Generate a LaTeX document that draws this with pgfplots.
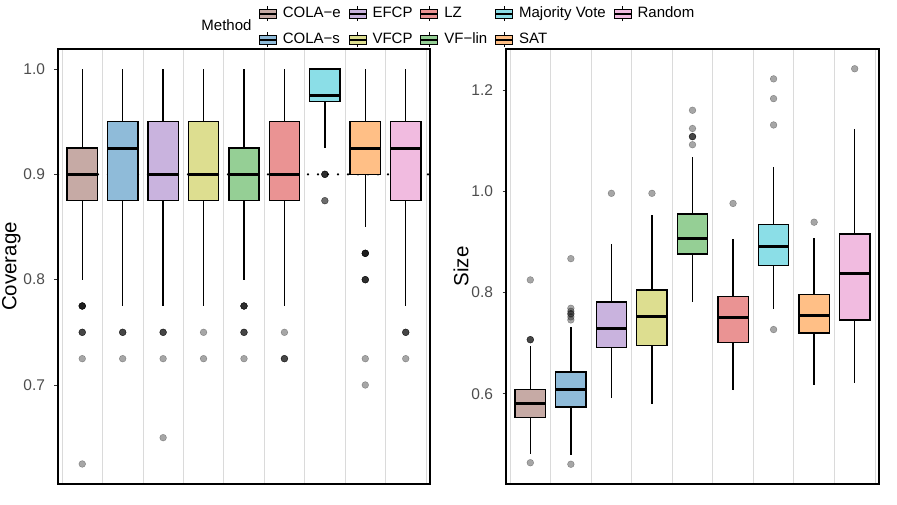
\documentclass[border=0pt]{standalone}
\usepackage{fontspec}
\setmainfont{Liberation Sans}
\usepackage{pgfplots}
\pgfplotsset{compat=1.18}
\usepgfplotslibrary{statistics}

\definecolor{cbrown}{HTML}{C6AAA5}
\definecolor{cblue}{HTML}{8FBBD9}
\definecolor{cpurple}{HTML}{C9B3DE}
\definecolor{colive}{HTML}{DDDE90}
\definecolor{cgreen}{HTML}{95CF95}
\definecolor{cred}{HTML}{EA9393}
\definecolor{ccyan}{HTML}{8BDEE7}
\definecolor{corange}{HTML}{FFBF86}
\definecolor{cpink}{HTML}{F1BBE0}
\definecolor{ticktext}{HTML}{4D4D4D}
\definecolor{gridc}{HTML}{DADADA}

\pgfplotsset{
  panel/.style={
    scale only axis,
    width=372bp, height=435bp,
    xmin=0.4, xmax=9.6,
    xtick={0.5,1.5,...,9.5}, xticklabels={},
    xmajorgrids, major grid style={gridc, line width=0.8bp},
    x tick style={draw=none},
    axis line style={black, line width=1.3bp},
    ytick pos=left, tick align=outside,
    major tick length=3.5bp,
    y tick style={color=black!80, line width=0.9bp},
    yticklabel style={xshift=-6bp, /pgf/number format/.cd, fixed, fixed zerofill, precision=1, assume math mode=true},
    ticklabel style={font=\fontsize{15.5bp}{18bp}\selectfont, color=ticktext},
    label style={font=\fontsize{20.5bp}{24bp}\selectfont},
    ylabel shift=-4bp,
    boxplot/draw direction=y,
    boxplot/box extend=0.75,
    boxplot/whisker extend=0,
    boxplot/every median/.style={line width=3bp},
    bx/.style={draw=black, line width=1.4bp, fill=##1},
    out/.style={only marks, mark=*, mark size=3.4bp,
      mark options={draw=none, fill=black, opacity=0.35}},
  },
  bxkey/.style={legend image code/.code={
    \draw[##1, draw=black, line width=1bp] (0bp,-4.5bp) rectangle (17bp,4.5bp);
    \draw[black, line width=1bp] (8.5bp,4.5bp)--(8.5bp,7.5bp) (8.5bp,-4.5bp)--(8.5bp,-7.5bp);
    \draw[black, line width=1.8bp] (0bp,0bp)--(17bp,0bp);
  }},
}

\begin{document}
\begin{tikzpicture}
\useasboundingbox (0,0) rectangle (897bp,505bp);

% ---------- Coverage ----------
\begin{axis}[panel, at={(58bp,21bp)}, anchor=south west,
  ymin=0.606, ymax=1.019, ytick={0.7,0.8,0.9,1.0},
  ylabel={Coverage},
  legend style={at={(0.5385,1.100)}, anchor=north west, draw=none, fill=none,
    inner sep=0pt, font=\fontsize{15bp}{18bp}\selectfont,
    nodes={inner xsep=0bp, inner ysep=0bp, text height=11bp, text depth=3bp},
    /tikz/every odd column/.append style={column sep=5.5bp},
    /tikz/every even column/.append style={column sep=7.5bp},
    row sep=10bp},
  legend columns=5, legend cell align=left]
\addlegendimage{bxkey, fill=cbrown}\addlegendentry{COLA−e}
\addlegendimage{bxkey, fill=cpurple}\addlegendentry{EFCP}
\addlegendimage{bxkey, fill=cred}\addlegendentry{LZ}
\addlegendimage{bxkey, fill=ccyan}\addlegendentry{Majority Vote}
\addlegendimage{bxkey, fill=cpink}\addlegendentry{Random}
\addlegendimage{bxkey, fill=cblue}\addlegendentry{COLA−s}
\addlegendimage{bxkey, fill=colive}\addlegendentry{VFCP}
\addlegendimage{bxkey, fill=cgreen}\addlegendentry{VF−lin}
\addlegendimage{bxkey, fill=corange}\addlegendentry{SAT}

\addplot[black, line width=2.4bp, line cap=round, dash pattern=on 0bp off 10bp, forget plot]
  coordinates {(0.4,0.9) (9.6,0.9)};

\addplot[bx=cbrown, boxplot prepared={draw position=1, lower whisker=0.8, lower quartile=0.875, median=0.9, upper quartile=0.925, upper whisker=1.0}] coordinates {};
\addplot[bx=cblue, boxplot prepared={draw position=2, lower whisker=0.775, lower quartile=0.875, median=0.925, upper quartile=0.95, upper whisker=1.0}] coordinates {};
\addplot[bx=cpurple, boxplot prepared={draw position=3, lower whisker=0.775, lower quartile=0.875, median=0.9, upper quartile=0.95, upper whisker=1.0}] coordinates {};
\addplot[bx=colive, boxplot prepared={draw position=4, lower whisker=0.775, lower quartile=0.875, median=0.9, upper quartile=0.95, upper whisker=1.0}] coordinates {};
\addplot[bx=cgreen, boxplot prepared={draw position=5, lower whisker=0.8, lower quartile=0.875, median=0.9, upper quartile=0.925, upper whisker=1.0}] coordinates {};
\addplot[bx=cred, boxplot prepared={draw position=6, lower whisker=0.775, lower quartile=0.875, median=0.9, upper quartile=0.95, upper whisker=1.0}] coordinates {};
\addplot[bx=ccyan, boxplot prepared={draw position=7, lower whisker=0.925, lower quartile=0.969, median=0.975, upper quartile=1.0, upper whisker=1.0}] coordinates {};
\addplot[bx=corange, boxplot prepared={draw position=8, lower whisker=0.85, lower quartile=0.9, median=0.925, upper quartile=0.95, upper whisker=1.0}] coordinates {};
\addplot[bx=cpink, boxplot prepared={draw position=9, lower whisker=0.775, lower quartile=0.875, median=0.925, upper quartile=0.95, upper whisker=1.0}] coordinates {};

% outliers (repeated values stack up darker)
\addplot[out] coordinates {
  (1,0.775) (1,0.775) (1,0.775) (1,0.775) (1,0.775) (1,0.75) (1,0.75) (1,0.75) (1,0.725) (1,0.625)
  (2,0.75) (2,0.75) (2,0.75) (2,0.725)
  (3,0.75) (3,0.75) (3,0.75) (3,0.725) (3,0.65)
  (4,0.75) (4,0.725)
  (5,0.775) (5,0.775) (5,0.775) (5,0.775) (5,0.75) (5,0.75) (5,0.75) (5,0.725)
  (6,0.75) (6,0.725) (6,0.725) (6,0.725)
  (7,0.9) (7,0.9) (7,0.9) (7,0.9) (7,0.875) (7,0.875)
  (8,0.825) (8,0.825) (8,0.825) (8,0.825) (8,0.825) (8,0.8) (8,0.8) (8,0.8) (8,0.8) (8,0.725) (8,0.7)
  (9,0.75) (9,0.75) (9,0.75) (9,0.725)
};
\end{axis}

\node[anchor=east, font=\fontsize{15bp}{18bp}\selectfont] at (255bp,480bp) {Method};

% ---------- Size ----------
\begin{axis}[panel, at={(506bp,21bp)}, anchor=south west, width=373bp,
  ymin=0.422, ymax=1.281, ytick={0.6,0.8,1.0,1.2},
  ylabel={Size}]
\addplot[bx=cbrown, boxplot prepared={draw position=1, lower whisker=0.481, lower quartile=0.553, median=0.580, upper quartile=0.609, upper whisker=0.695}] coordinates {};
\addplot[bx=cblue, boxplot prepared={draw position=2, lower whisker=0.479, lower quartile=0.574, median=0.609, upper quartile=0.643, upper whisker=0.733}] coordinates {};
\addplot[bx=cpurple, boxplot prepared={draw position=3, lower whisker=0.591, lower quartile=0.691, median=0.729, upper quartile=0.781, upper whisker=0.896}] coordinates {};
\addplot[bx=colive, boxplot prepared={draw position=4, lower whisker=0.579, lower quartile=0.696, median=0.752, upper quartile=0.805, upper whisker=0.953}] coordinates {};
\addplot[bx=cgreen, boxplot prepared={draw position=5, lower whisker=0.781, lower quartile=0.876, median=0.907, upper quartile=0.955, upper whisker=1.067}] coordinates {};
\addplot[bx=cred, boxplot prepared={draw position=6, lower whisker=0.607, lower quartile=0.702, median=0.751, upper quartile=0.792, upper whisker=0.906}] coordinates {};
\addplot[bx=ccyan, boxplot prepared={draw position=7, lower whisker=0.767, lower quartile=0.853, median=0.891, upper quartile=0.935, upper whisker=1.048}] coordinates {};
\addplot[bx=corange, boxplot prepared={draw position=8, lower whisker=0.618, lower quartile=0.720, median=0.754, upper quartile=0.796, upper whisker=0.907}] coordinates {};
\addplot[bx=cpink, boxplot prepared={draw position=9, lower whisker=0.622, lower quartile=0.746, median=0.838, upper quartile=0.916, upper whisker=1.124}] coordinates {};

\addplot[out] coordinates {
  (1,0.825) (1,0.707) (1,0.707) (1,0.707) (1,0.464)
  (2,0.867) (2,0.769) (2,0.763) (2,0.758) (2,0.758) (2,0.752) (2,0.746) (2,0.461)
  (3,0.996)
  (4,0.996)
  (5,1.160) (5,1.124) (5,1.108) (5,1.108) (5,1.108) (5,1.092)
  (6,0.976)
  (7,1.222) (7,1.183) (7,1.131) (7,0.727)
  (8,0.939)
  (9,1.242)
};
\end{axis}
\end{tikzpicture}
\end{document}
